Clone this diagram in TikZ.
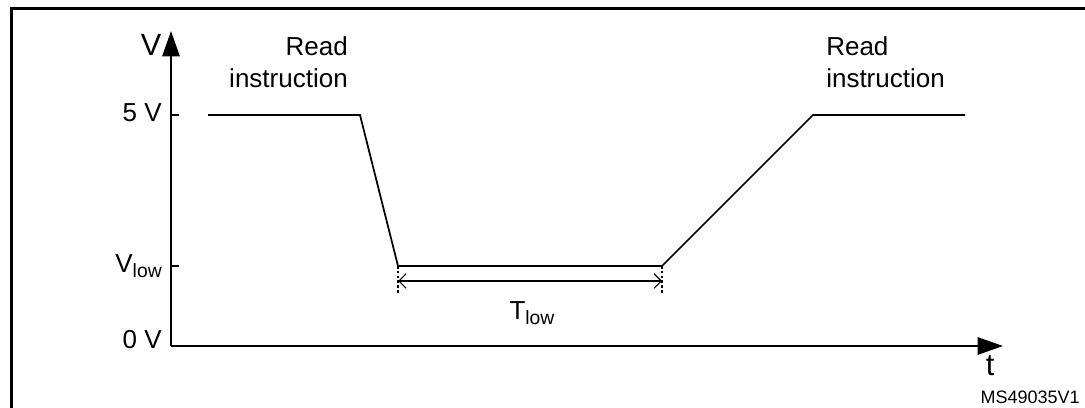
\documentclass[tikz,border=0pt]{standalone}
\usepackage{fontspec}
\setmainfont{Liberation Sans}
\usetikzlibrary{arrows.meta, positioning}

\begin{document}
\begin{tikzpicture}[
        x=0.75pt, y=-0.75pt,
        % axes with filled heads, signal and dimension lines
        axis/.style={line width=1.3pt, -{Triangle[length=19pt, width=13pt]}},
        signal/.style={line width=1.3pt, line join=miter},
        tick/.style={line width=1.1pt},
        guide/.style={line width=0.9pt, dash pattern=on 2pt off 1.6pt},
        dim/.style={line width=0.8pt, {Straight Barb[length=5.5pt, width=11pt]}-{Straight Barb[length=5.5pt, width=11pt]}},
        lbl/.style={font=\fontsize{19.5}{24}\selectfont, inner sep=0pt},
        biglbl/.style={font=\fontsize{23}{26}\selectfont, inner sep=0pt},
        note/.style={lbl},
        tag/.style={font=\fontsize{13.5}{15}\selectfont, inner sep=0pt}
    ]
    \useasboundingbox (0,0) rectangle (1085,407);

    % Frame (cut on the right and bottom)
    \draw[line width=2.2pt] (11.5,430) -- (11.5,8.5) -- (1110,8.5);

    % Axes
    \coordinate (orig) at (171,346);
    \coordinate (ytop) at (171,31);
    \coordinate (xend) at (1003,346);
    \draw[axis] (orig) -- (ytop);
    \draw[axis] (orig) -- (xend);

    % Level ticks
    \coordinate (hi) at (171,115);
    \coordinate (lo) at (171,266);
    \draw[tick] (hi) -- ++(8,0);
    \draw[tick] (lo) -- ++(8,0);

    % Axis labels
    \node (vlab) [biglbl] at (151,45) {V};
    \node (tlab) [biglbl] at (990,366) {t};
    \node (l5) [lbl, anchor=east] at (162,113) {5 V};
    \node (llo) [lbl, anchor=east] at (162,266) {V{\fontsize{14.5}{15}\selectfont\raisebox{-3.5pt}{low}}};
    \node (l0) [lbl, anchor=east] at (162,340) {0 V};

    % Signal
    \coordinate (s1) at (208,115);
    \coordinate (s2) at (360,115);
    \coordinate (s3) at (398,266);
    \coordinate (s4) at (662,266);
    \coordinate (s5) at (813,115);
    \coordinate (s6) at (965,115);
    \draw[signal] (s1) -- (s2) -- (s3) -- (s4) -- (s5) -- (s6);

    % Low-time dimension
    \coordinate (g1) at (398,293);
    \coordinate (g2) at (662,293);
    \draw[guide] (s3) -- (g1);
    \draw[guide] (s4) -- (g2);
    \coordinate (d1) at (398,281);
    \coordinate (d2) at (662,281);
    \draw[dim] (d1) -- (d2);
    \node (tlow) [lbl] at (532,313) {T{\fontsize{14.5}{15}\selectfont\raisebox{-3.5pt}{low}}};

    % Phase notes
    \node (rd1) [note, align=right, anchor=north east] at (348,36) {Read\\instruction};
    \node (rd2) [note, align=left, anchor=north west] at (826,36) {Read\\instruction};

    \node (ref) [tag, anchor=east] at (1080,397) {MS49035V1};
\end{tikzpicture}
\end{document}
